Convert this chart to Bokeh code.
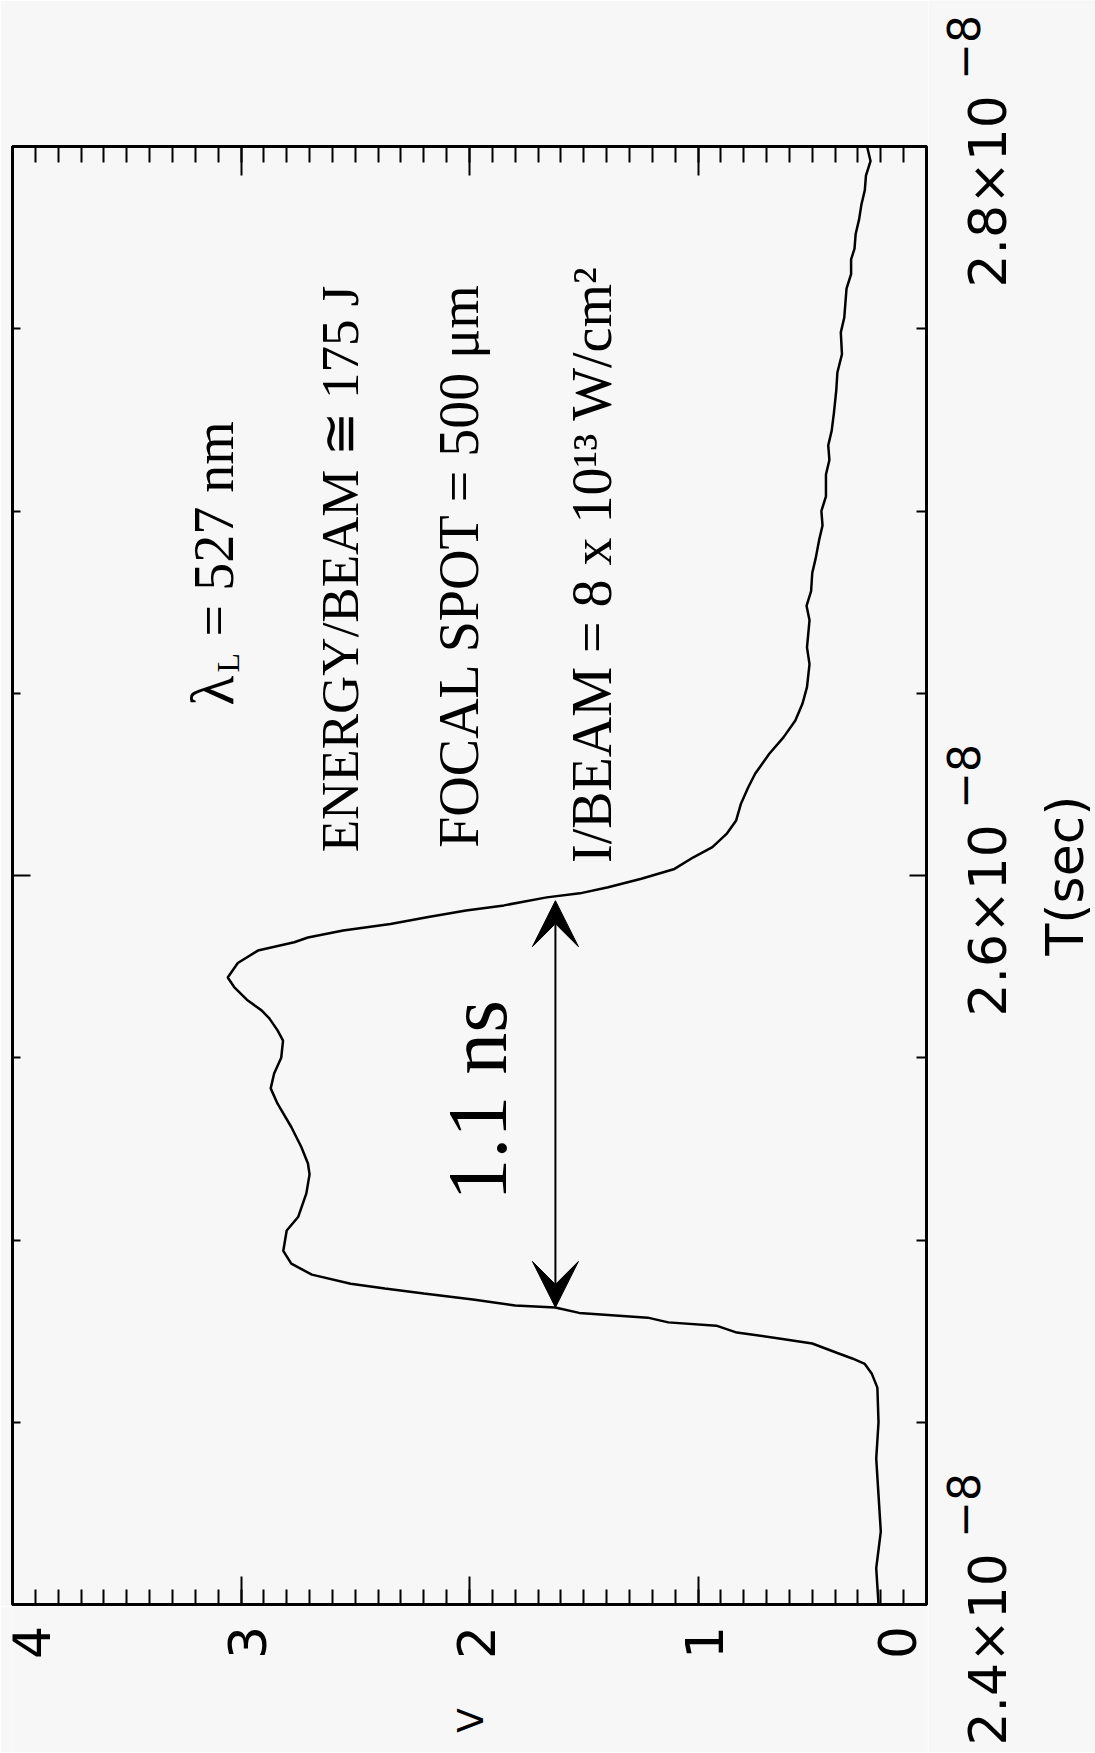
import math
from bokeh.plotting import figure
from bokeh.layouts import row, column
from bokeh.models import Range1d, LinearAxis, FixedTicker, Arrow, VeeHead, ColumnDataSource
from bokeh.core.properties import value
from bokeh.embed import file_html
from bokeh.resources import INLINE

# ---- data (time in ns, signal in volts) ----
t_ns = [24.00, 24.10, 24.20, 24.30, 24.40, 24.50, 24.595, 24.634, 24.66, 24.675,
        24.69, 24.716, 24.73, 24.746, 24.765, 24.774, 24.787, 24.80, 24.815, 24.82,
        24.837, 24.853, 24.867, 24.88, 24.905, 24.935, 24.97, 25.026, 25.063, 25.128,
        25.18, 25.21, 25.255, 25.31, 25.374, 25.416, 25.457, 25.50, 25.547, 25.575,
        25.608, 25.63, 25.657, 25.694, 25.72, 25.76, 25.794, 25.817, 25.83, 25.849,
        25.867, 25.886, 25.904, 25.918, 25.94, 25.951, 25.968, 25.991, 26.018, 26.05,
        26.078, 26.114, 26.151, 26.197, 26.242, 26.279, 26.334, 26.379, 26.425, 26.471,
        26.517, 26.58, 26.626, 26.70, 26.74, 26.78, 26.83, 26.87, 26.92, 26.96,
        27.00, 27.04, 27.10, 27.14, 27.18, 27.22, 27.27, 27.33, 27.38, 27.43,
        27.49, 27.53, 27.57, 27.61, 27.65, 27.69, 27.72, 27.76, 27.80, 27.84,
        27.88, 27.92, 27.96, 28.00]
volts = [0.21, 0.22, 0.20, 0.21, 0.22, 0.21, 0.215, 0.24, 0.27, 0.325,
         0.39, 0.50, 0.645, 0.83, 0.92, 1.13, 1.22, 1.52, 1.625, 1.80,
         1.985, 2.20, 2.37, 2.52, 2.69, 2.78, 2.815, 2.80, 2.75, 2.714,
         2.70, 2.707, 2.736, 2.78, 2.84, 2.87, 2.855, 2.824, 2.816, 2.84,
         2.876, 2.91, 2.97, 3.03, 3.058, 3.014, 2.926, 2.767, 2.707, 2.553,
         2.346, 2.18, 2.015, 1.849, 1.662, 1.517, 1.393, 1.248, 1.103, 1.02,
         0.937, 0.875, 0.833, 0.812, 0.78, 0.75, 0.688, 0.626, 0.574, 0.543,
         0.523, 0.512, 0.523, 0.512, 0.525, 0.505, 0.50, 0.485, 0.47, 0.455,
         0.46, 0.44, 0.44, 0.425, 0.43, 0.415, 0.405, 0.395, 0.39, 0.37,
         0.375, 0.36, 0.355, 0.35, 0.33, 0.33, 0.315, 0.31, 0.295, 0.285,
         0.27, 0.265, 0.245, 0.26]

v_major = [0, 1, 2, 3, 4]
v_minor = [round(0.1 * k, 1) for k in range(0, 41)]
v_labels = ["0", "1", "2", "3", "4"]
t_major = [24, 26, 28]
t_minor = [24.5, 25, 25.5, 26.5, 27, 27.5]
t_base_labels = ["2.4×10", "2.6×10", "2.8×10"]
t_exp_labels = ["−8", "−8", "−8"]

arrow_v = 1.624
arrow_t = [24.815, 25.931]

SANS = "DejaVu Sans"
SERIF = "Liberation Serif"
ROT = math.pi / 2
BG = "#f7f7f7"

# geometry (pixels)
FW, FH = 914, 1458          # plot frame
LB, TB = 12, 146            # frame offset from page corner
RW, BH = 167, 146           # right / bottom label strips
PX_PER_NS = FH / 4.0

p = figure(frame_width=FW, frame_height=FH,
           x_range=Range1d(4, 0), y_range=Range1d(24, 28),
           output_backend="svg", toolbar_location=None,
           x_axis_location=None, y_axis_location=None,
           min_border_left=LB, min_border_top=TB, min_border_right=2, min_border_bottom=2,
           background_fill_color=BG, border_fill_color=BG,
           outline_line_color="black", outline_line_width=3)
p.grid.visible = False


def tick_axis(ticks, minor, mj_in, mn_in):
    ax = LinearAxis(ticker=FixedTicker(ticks=ticks, minor_ticks=minor))
    ax.axis_line_color = None
    ax.major_tick_in = mj_in
    ax.major_tick_out = 0
    ax.minor_tick_in = mn_in
    ax.minor_tick_out = 0
    ax.major_tick_line_width = 2
    ax.minor_tick_line_width = 2
    ax.major_tick_line_color = "black"
    ax.minor_tick_line_color = "black"
    ax.major_label_text_color = None
    ax.major_label_text_font_size = "0px"
    ax.major_label_standoff = 0
    return ax


p.add_layout(tick_axis(v_major, v_minor, 28, 15), "below")
p.add_layout(tick_axis(v_major, v_minor, 29, 16), "above")
p.add_layout(tick_axis(t_major, t_minor, 17, 10), "right")
p.add_layout(tick_axis(t_major, t_minor, 18, 8), "left")

# signal trace
src = ColumnDataSource(dict(v=volts, t=t_ns))
p.line("v", "t", source=src, line_color="black", line_width=2.5)

# pulse-width arrow
p.add_layout(Arrow(start=VeeHead(size=46, fill_color="black", line_color="black"),
                   end=VeeHead(size=46, fill_color="black", line_color="black"),
                   x_start=arrow_v, y_start=arrow_t[0], x_end=arrow_v, y_end=arrow_t[1],
                   line_color="black", line_width=2))


def txt(fig, x, y, s, font, size, align="center"):
    fig.text(x=x, y=y, text=s, angle=ROT,
             text_font=value(font), text_font_size=f"{size}px", text_color="black",
             text_align=align, text_baseline="middle")


txt(p, [1.967], [25.383], ["1.1 ns"], SERIF, 84)

# annotation block
txt(p, [3.129], [26.466], ["λ"], SERIF, 62, "left")
txt(p, [3.059], [26.557], ["L"], SERIF, 32, "left")
txt(p, [3.120], [26.656], ["= 527 nm"], SERIF, 56, "left")
txt(p, [2.565], [26.841], ["ENERGY/BEAM ≅ 175 J"], SERIF, 53)
txt(p, [2.044, 1.466], [26.852, 26.853],
    ["FOCAL SPOT = 500 μm", "I/BEAM = 8 x 10¹³ W/cm²"], SERIF, 56)

# ---- right strip: T tick labels and axis title (same px-per-ns as the plot) ----
t_top = 28 + TB / PX_PER_NS
t_bot = 24 - (BH + 2) / PX_PER_NS
r = figure(frame_width=RW, frame_height=TB + FH + 2 + BH,
           x_range=Range1d(0, RW), y_range=Range1d(t_bot, t_top),
           output_backend="svg", toolbar_location=None,
           x_axis_location=None, y_axis_location=None,
           min_border=0, background_fill_color=BG, border_fill_color=BG,
           outline_line_color=None)
r.grid.visible = False
txt(r, [59] * 3, [t - 0.123 for t in t_major], t_base_labels, SANS, 52)
txt(r, [35] * 3, [t + 0.272 for t in t_major], t_exp_labels, SANS, 44)
txt(r, [136], [26.0], ["T(sec)"], SANS, 52)

# ---- bottom strip: V tick labels and axis title (shares the V scale) ----
b = figure(frame_width=FW, frame_height=BH,
           x_range=p.x_range, y_range=Range1d(BH, 0),
           output_backend="svg", toolbar_location=None,
           x_axis_location=None, y_axis_location=None,
           min_border_left=LB, min_border_right=2, min_border_top=0, min_border_bottom=0,
           background_fill_color=BG, border_fill_color=BG, outline_line_color=None)
b.grid.visible = False
txt(b, [min(max(v - 0.028, 0.13), 3.917) for v in v_major], [36] * len(v_major),
    v_labels, SANS, 52)
txt(b, [1.997], [114], ["V"], SANS, 36)

layout = row(column(p, b), r)
open("out.html", "w").write(file_html(layout, INLINE))
